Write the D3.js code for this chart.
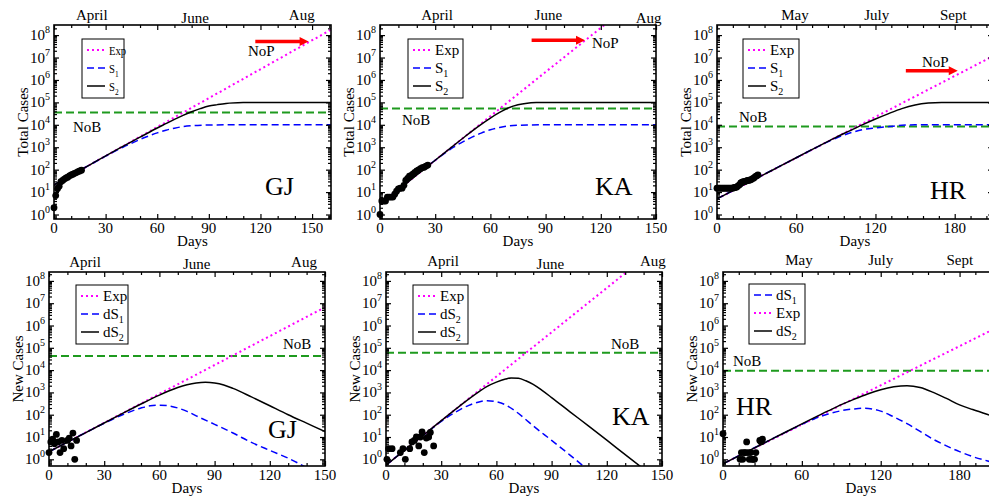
<!DOCTYPE html>
<html><head><meta charset="utf-8">
<script src="https://cdn.jsdelivr.net/npm/d3@7"></script>
<style>
html,body{margin:0;padding:0;background:#fff;}
svg{display:block;}
</style></head><body>
<svg id="chart" width="989" height="496"></svg>
<script>
// ================= DATA =================
// --- Gujarat (GJ) ---
const gjTotalObs = [2,7,14,18,29,33,38,43,46,53,58,63,69,74,82,87,95];          // day = index
const gjNewObsDays = [0,1,2,3,4,5,6,7,8,10,11,12,13,14,15];
const gjNewObs     = [2,6,8,5,13,6,2,7,3,7,9,4,15,1,7];
const gjExp  = [[0,21],[161,1.74e8]];
const gjS1   = [[0,21],[20,151],[30,400],[40,1000],[45,1500],[50,2240],[55,3160],[60,4370],[65,5750],[70,7080],[75,8320],[80,9120],[90,9770],[100,10000],[161,10000]];
const gjS2   = [[0,21],[20,151],[40,1100],[50,2800],[60,7200],[65,11200],[70,17400],[75,26300],[80,38000],[85,52500],[90,69200],[95,79400],[100,89100],[110,97700],[120,100000],[161,100000]];
const gjNoB  = 35000;
const gjdExp = [[0,2.19],[150,6.6e6]];
const gjdS1  = [[0,2.19],[20,15.8],[30,41.7],[40,100],[50,200],[55,251],[60,269],[65,251],[70,200],[75,141],[80,89],[90,37],[100,15.1],[110,5.75],[120,2.51],[130,1.12],[140,0.42]];
const gjdS2  = [[0,2.19],[20,15.8],[40,115],[50,302],[60,759],[65,1150],[70,1660],[75,2190],[80,2630],[85,2820],[90,2630],[95,2140],[100,1510],[110,631],[120,251],[130,100],[140,41.7],[150,17.4]];
const gjdNoB = 43000;
const gjNoP  = {from:117, to:148, value:5.2e7};

// --- Karnataka (KA) ---
const kaTotalObs = [1,4,4,4,6,6,6,6,8,11,14,15,15,20,33,41,51,55,64,76,88,98,110,124,128,144,160];
const kaNewObsDays = [0.5,1.4,3.3,7.8,9.2,10.5,12.9,14.1,15.4,16.5,17.8,18.7,19.6,20.8,21.9,23.2,24.1,25.9];
const kaNewObs     = [1,3,3,2,3,1,3,6,7,10,4,10,17,2,9,10,16,4];
const kaExp  = [[0,2.82],[150,1.95e10]];
const kaS1   = [[0,2.82],[30,263],[35,525],[40,1000],[45,1740],[50,2820],[55,4270],[60,6030],[65,7590],[70,8910],[80,9770],[90,10000],[150,10000]];
const kaS2   = [[0,2.82],[30,263],[45,2510],[50,5250],[55,10500],[60,20000],[65,35500],[70,57500],[75,77600],[80,91200],[85,97700],[90,100000],[150,100000]];
const kaNoB  = 54000;
const kadExp = [[0,0.55],[150,4.7e9]];
const kadS1  = [[0,0.55],[20,11.5],[30,50],[35,95],[40,166],[45,263],[50,363],[55,427],[60,380],[65,275],[70,151],[75,71],[80,31.6],[90,7.1],[100,1.55],[110,0.32]];
const kadS2  = [[0,0.55],[20,11.5],[40,245],[50,1000],[55,1860],[60,2880],[65,3980],[68,4470],[72,4270],[76,3310],[80,2290],[85,1200],[90,589],[100,135],[110,31.6],[120,7.24],[130,1.62],[140,0.37]];
const kadNoB = 60000;
const kaNoP  = {from:82.4, to:111.4, value:5.9e7};

// --- Haryana (HR) ---
const hrTotalObs = [15,15,15,15,15,15,15,15,15,15,15,15,15,16,16,17,19,21,26,28,29,30,31,33,33,35,36,40,43,49,53,58];
const hrNewObsDays = [0,13,14,15,16,17,18,19,20,21,22,23,24,25,28,29,30];
const hrNewObs     = [14,1,2,1,2,2,6,2,1,2,1,1,1,2,7,6,8];
const hrExp  = [[0,5],[209,1.15e7]];
const hrS1   = [[0,5],[60,339],[80,1350],[90,2510],[100,4170],[110,6030],[120,7240],[130,8320],[140,9550],[150,10000],[209,10000]];
const hrS2   = [[0,5],[40,83],[60,339],[80,1380],[90,2750],[100,5250],[110,10000],[120,18200],[130,31600],[140,52500],[150,75900],[160,93300],[170,100000],[209,100000]];
const hrNoB  = 8300;
const hrdExp = [[0,0.63],[210,9.0e5]];
const hrdS1  = [[0,0.63],[40,9.8],[60,37],[70,68],[80,107],[90,151],[100,182],[108,195],[115,174],[120,145],[130,79],[140,40],[150,17.8],[160,7.9],[170,4.0],[180,2.2],[190,1.32],[203,0.79],[210,0.6]];
const hrdS2  = [[0,0.63],[40,9.8],[80,148],[90,282],[100,501],[110,851],[120,1320],[130,1780],[140,2000],[150,1660],[160,1000],[170,537],[180,275],[190,170],[203,95],[210,70]];
const hrdNoB = 9300;
const hrNoP  = {from:143, to:182.3, value:2.6e6};

// --- tick / label texts ---
const monthsGJKA = ["April","June","Aug"];
const monthsHR   = ["May","July","Sept"];
const gjMonthDays  = [22,82,144];
const kaMonthDays  = [31,91.5,146];
const hrMonthDays  = [59,121,179];
const gjdMonthDays = [19.6,80.3,138.6];
const kadMonthDays = [31,89.3,145];
const hrdMonthDays = [57.8,120,180.2];
const yDecades = [0,1,2,3,4,5,6,7,8];

// ================= LAYOUT / STYLE =================
const FONT = '"Liberation Serif","Times New Roman",Times,serif';
const GREEN = '#1e9a1e', BLUE = '#0000ff', PINK = '#ff00ff', RED = '#ff0000';
const STY = {
  exp:{stroke:PINK, w:2, dash:'2,3'},
  s1: {stroke:BLUE, w:1.5, dash:'7,4'},
  s2: {stroke:'#000', w:1.5, dash:null}
};
const TOPDOM = [0.631, 2.82e8], BOTDOM = [0.501, 2.51e8];

const panels = [
 {id:'p1', box:[54,25,331,219], xMax:161, yDom:TOPDOM, xMajor:30, xMinor:10, ytitle:'Total Cases',
  series:[['exp',gjExp],['s1',gjS1],['s2',gjS2]], obs:gjTotalObs.map((v,i)=>[i,v]), noB:gjNoB, noP:gjNoP,
  months:monthsGJKA, monthDays:gjMonthDays, monthBase:[19.5,22.5,19.5],
  legend:{dx:28,dy:14,w:42,h:59,fs:13,sx:0.82,items:[['exp','Exp',''],['s1','S','1'],['s2','S','2']]},
  noBText:[19,107], noPText:[194,31], big:['GJ',211,170]},
 {id:'p2', box:[380,25,656,219], xMax:150, yDom:TOPDOM, xMajor:30, xMinor:10, ytitle:'Total Cases',
  series:[['exp',kaExp],['s1',kaS1],['s2',kaS2]], obs:kaTotalObs.map((v,i)=>[i,v]), noB:kaNoB, noP:kaNoP,
  months:monthsGJKA, monthDays:kaMonthDays, monthBase:[19.5,19.5,23],
  legend:{dx:28,dy:14,w:55,h:59,fs:15,sx:1,items:[['exp','Exp',''],['s1','S','1'],['s2','S','2']]},
  noBText:[22,100], noPText:[212,23], big:['KA',215,170]},
 {id:'p3', box:[717,25,993,219], xMax:209, yDom:TOPDOM, xMajor:60, xMinor:12, ytitle:'Total Cases',
  series:[['exp',hrExp],['s1',hrS1],['s2',hrS2]], obs:hrTotalObs.map((v,i)=>[i,v]), noB:hrNoB, noP:hrNoP,
  months:monthsHR, monthDays:hrMonthDays, monthBase:[19.5,19.5,19.5],
  legend:{dx:26,dy:14,w:56,h:59,fs:15,sx:1,items:[['exp','Exp',''],['s1','S','1'],['s2','S','2']]},
  noBText:[22,97], noPText:[205,42], big:['HR',213,174]},
 {id:'p4', box:[49,272,325,466], xMax:150, yDom:BOTDOM, xMajor:30, xMinor:10, ytitle:'New Cases',
  series:[['exp',gjdExp],['s1',gjdS1],['s2',gjdS2]], obs:gjNewObsDays.map((d,i)=>[d,gjNewObs[i]]), noB:gjdNoB, noP:null,
  months:monthsGJKA, monthDays:gjdMonthDays, monthBase:[266.5,268.5,266.5],
  legend:{dx:27,dy:13,w:52,h:59,fs:15,sx:1,items:[['exp','Exp',''],['s1','dS','1'],['s2','dS','2']]},
  noBText:[234,77], noPText:null, big:['GJ',219,166]},
 {id:'p5', box:[386,272,662,466], xMax:150, yDom:BOTDOM, xMajor:30, xMinor:10, ytitle:'New Cases',
  series:[['exp',kadExp],['s1',kadS1],['s2',kadS2]], obs:kaNewObsDays.map((d,i)=>[d,kaNewObs[i]]), noB:kadNoB, noP:null,
  months:monthsGJKA, monthDays:kadMonthDays, monthBase:[266,268.5,266],
  legend:{dx:27,dy:13,w:55,h:59,fs:15,sx:1,items:[['exp','Exp',''],['s1','dS','2'],['s2','dS','2']]},
  noBText:[225,77], noPText:null, big:['KA',226,153]},
 {id:'p6', box:[723,272,999,466], xMax:210, yDom:BOTDOM, xMajor:60, xMinor:12, ytitle:'New Cases',
  series:[['exp',hrdExp],['s1',hrdS1],['s2',hrdS2]], obs:hrNewObsDays.map((d,i)=>[d,hrNewObs[i]]), noB:hrdNoB, noP:null,
  months:monthsHR, monthDays:hrdMonthDays, monthBase:[264.5,264.5,264.5],
  legend:{dx:26,dy:12,w:56,h:60,fs:15,sx:1,items:[['s1','dS','1'],['exp','Exp',''],['s2','dS','2']]},
  noBText:[10,94], noPText:null, big:['HR',13,143]}
];

const svg = d3.select('#chart').attr('font-family', FONT);
const defs = svg.append('defs');

function styleLine(sel, key){
  const s = STY[key];
  sel.attr('fill','none').attr('stroke',s.stroke).attr('stroke-width',s.w);
  if (s.dash) sel.attr('stroke-dasharray', s.dash);
  return sel;
}

panels.forEach(p => {
  const [x0,y0,x1,y1] = p.box;
  const x = d3.scaleLinear().domain([0,p.xMax]).range([x0,x1]);
  const y = d3.scaleLog().domain(p.yDom).range([y1,y0]);
  const g = svg.append('g');

  defs.append('clipPath').attr('id','clip-'+p.id).append('rect')
    .attr('x',x0).attr('y',y0).attr('width',x1-x0).attr('height',y1-y0);
  const plot = g.append('g').attr('clip-path',`url(#clip-${p.id})`);

  // NoB line
  plot.append('line').attr('x1',x0).attr('x2',x1).attr('y1',y(p.noB)).attr('y2',y(p.noB))
    .attr('stroke',GREEN).attr('stroke-width',2).attr('stroke-dasharray','8,4');

  // model curves
  p.series.forEach(([key,data]) => {
    const ln = d3.line().x(d=>x(d[0])).y(d=>y(d[1]))
      .curve(key==='exp' ? d3.curveLinear : d3.curveMonotoneX);
    styleLine(plot.append('path').attr('d', ln(data)), key);
  });

  // NoP arrow
  if (p.noP) {
    const ya = y(p.noP.value), xa = x(p.noP.from), xb = x(p.noP.to);
    plot.append('line').attr('x1',xa).attr('x2',xb-8).attr('y1',ya).attr('y2',ya)
      .attr('stroke',RED).attr('stroke-width',3.5);
    plot.append('path').attr('d',`M${xb},${ya}L${xb-9},${ya-4.5}L${xb-9},${ya+4.5}Z`).attr('fill',RED);
  }

  // observed points
  g.append('g').selectAll('circle').data(p.obs).join('circle')
    .attr('cx',d=>x(d[0])).attr('cy',d=>y(d[1])).attr('r',3.4).attr('fill','#000');

  // axes ticks (inward) on all four sides
  const majors = d3.range(0, p.xMax+0.001, p.xMajor);
  const minors = d3.range(0, p.xMax+0.001, p.xMinor).filter(v => Math.abs(v/p.xMajor - Math.round(v/p.xMajor))>1e-6);
  const yMaj = yDecades.map(k => Math.pow(10,k));
  const yMin = [];
  for (let k=-1;k<=8;k++) for (let m=2;m<=9;m++){ const v=m*Math.pow(10,k); if (v>p.yDom[0] && v<p.yDom[1]) yMin.push(v); }

  function axis(gen, vals, size, tr){
    const a = g.append('g').attr('transform',tr)
      .call(gen.tickValues(vals).tickSizeInner(size).tickSizeOuter(0).tickFormat(''));
    a.select('.domain').remove();
    a.selectAll('line').attr('stroke','#000').attr('stroke-width',1.2);
  }
  axis(d3.axisBottom(x), majors, -5, `translate(0,${y1})`);
  axis(d3.axisBottom(x), minors, -3, `translate(0,${y1})`);
  axis(d3.axisTop(x), majors, -5, `translate(0,${y0})`);
  axis(d3.axisTop(x), minors, -3, `translate(0,${y0})`);
  axis(d3.axisLeft(y), yMaj, -5, `translate(${x0},0)`);
  axis(d3.axisLeft(y), yMin, -3, `translate(${x0},0)`);
  axis(d3.axisRight(y), yMaj, -5, `translate(${x1},0)`);
  axis(d3.axisRight(y), yMin, -3, `translate(${x1},0)`);

  // frame
  g.append('rect').attr('x',x0).attr('y',y0).attr('width',x1-x0).attr('height',y1-y0)
    .attr('fill','none').attr('stroke','#000').attr('stroke-width',1.6);

  // x tick labels
  g.append('g').selectAll('text').data(majors).join('text')
    .attr('x',d=>x(d)).attr('y',y1+13.5).attr('text-anchor','middle').attr('font-size',15).text(d=>d);
  // y tick labels 10^k
  yDecades.forEach(k => {
    const t = g.append('text').attr('x',x0-4).attr('y',y(Math.pow(10,k))+5)
      .attr('text-anchor','end').attr('font-size',15);
    t.append('tspan').text('10');
    t.append('tspan').attr('dy',-7).attr('font-size',10).text(k);
  });
  // axis titles
  g.append('text').attr('x',(x0+x1)/2).attr('y',y1+27).attr('text-anchor','middle').attr('font-size',15).text('Days');
  g.append('text').attr('transform',`translate(${x0-31},${(y0+y1)/2}) rotate(-90)`)
    .attr('text-anchor','middle').attr('dy','0.35em').attr('font-size',15).text(p.ytitle);
  // month labels
  p.months.forEach((m,i) => {
    g.append('text').attr('x',x(p.monthDays[i])).attr('y',p.monthBase[i])
      .attr('text-anchor','middle').attr('font-size',15).text(m);
  });

  // annotations
  g.append('text').attr('x',x0+p.noBText[0]).attr('y',y0+p.noBText[1]).attr('font-size',15).text('NoB');
  if (p.noPText) g.append('text').attr('x',x0+p.noPText[0]).attr('y',y0+p.noPText[1]).attr('font-size',15).text('NoP');
  g.append('text').attr('x',x0+p.big[1]).attr('y',y0+p.big[2]).attr('font-size',26).text(p.big[0]);

  // legend
  const L = p.legend, bx = x0+L.dx, by = y0+L.dy;
  g.append('rect').attr('x',bx).attr('y',by).attr('width',L.w).attr('height',L.h)
    .attr('fill','#fff').attr('stroke','#000').attr('stroke-width',1);
  L.items.forEach(([key,base,sub],i) => {
    const yy = by + 11 + i*18;
    styleLine(g.append('line').attr('x1',bx+5).attr('x2',bx+23).attr('y1',yy).attr('y2',yy), key);
    const tg = g.append('g').attr('transform',`translate(${bx+27},${yy+5}) scale(${L.sx},1)`);
    const t = tg.append('text').attr('font-size',L.fs);
    t.append('tspan').text(base);
    if (sub) t.append('tspan').attr('dy',4).attr('font-size',Math.round(L.fs*0.67)).text(sub);
  });
});
</script>
</body></html>
